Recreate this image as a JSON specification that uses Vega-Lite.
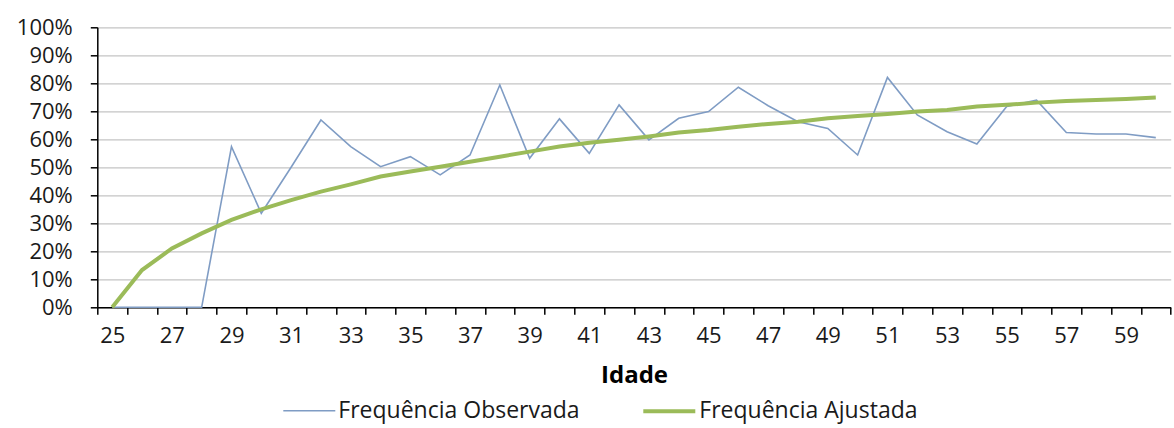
{
  "$schema": "https://vega.github.io/schema/vega-lite/v6.json",
  "width": 1073.4,
  "height": 280,
  "autosize": {"type": "none"},
  "padding": {"left": 97.3, "top": 27.3, "right": 3.3, "bottom": 120.7},
  "background": "white",
  "config": {
    "view": {"stroke": null},
    "font": "Open Sans",
    "axis": {"labelFont": "Open Sans", "titleFont": "Open Sans"},
    "legend": {"labelFont": "Open Sans"}
  },
  "data": {
    "values": [
      {"idade": 25, "serie": "Frequência Observada", "valor": 0},
      {"idade": 26, "serie": "Frequência Observada", "valor": 0},
      {"idade": 27, "serie": "Frequência Observada", "valor": 0},
      {"idade": 28, "serie": "Frequência Observada", "valor": 0},
      {"idade": 29, "serie": "Frequência Observada", "valor": 0.574},
      {"idade": 30, "serie": "Frequência Observada", "valor": 0.336},
      {"idade": 31, "serie": "Frequência Observada", "valor": 0.5},
      {"idade": 32, "serie": "Frequência Observada", "valor": 0.669},
      {"idade": 33, "serie": "Frequência Observada", "valor": 0.574},
      {"idade": 34, "serie": "Frequência Observada", "valor": 0.502},
      {"idade": 35, "serie": "Frequência Observada", "valor": 0.538},
      {"idade": 36, "serie": "Frequência Observada", "valor": 0.473},
      {"idade": 37, "serie": "Frequência Observada", "valor": 0.544},
      {"idade": 38, "serie": "Frequência Observada", "valor": 0.794},
      {"idade": 39, "serie": "Frequência Observada", "valor": 0.532},
      {"idade": 40, "serie": "Frequência Observada", "valor": 0.673},
      {"idade": 41, "serie": "Frequência Observada", "valor": 0.55},
      {"idade": 42, "serie": "Frequência Observada", "valor": 0.723},
      {"idade": 43, "serie": "Frequência Observada", "valor": 0.598},
      {"idade": 44, "serie": "Frequência Observada", "valor": 0.675},
      {"idade": 45, "serie": "Frequência Observada", "valor": 0.699},
      {"idade": 46, "serie": "Frequência Observada", "valor": 0.786},
      {"idade": 47, "serie": "Frequência Observada", "valor": 0.72},
      {"idade": 48, "serie": "Frequência Observada", "valor": 0.663},
      {"idade": 49, "serie": "Frequência Observada", "valor": 0.639},
      {"idade": 50, "serie": "Frequência Observada", "valor": 0.544},
      {"idade": 51, "serie": "Frequência Observada", "valor": 0.821},
      {"idade": 52, "serie": "Frequência Observada", "valor": 0.687},
      {"idade": 53, "serie": "Frequência Observada", "valor": 0.627},
      {"idade": 54, "serie": "Frequência Observada", "valor": 0.583},
      {"idade": 55, "serie": "Frequência Observada", "valor": 0.717},
      {"idade": 56, "serie": "Frequência Observada", "valor": 0.74},
      {"idade": 57, "serie": "Frequência Observada", "valor": 0.624},
      {"idade": 58, "serie": "Frequência Observada", "valor": 0.619},
      {"idade": 59, "serie": "Frequência Observada", "valor": 0.619},
      {"idade": 60, "serie": "Frequência Observada", "valor": 0.606},
      {"idade": 25, "serie": "Frequência Ajustada", "valor": 0},
      {"idade": 26, "serie": "Frequência Ajustada", "valor": 0.133},
      {"idade": 27, "serie": "Frequência Ajustada", "valor": 0.21},
      {"idade": 28, "serie": "Frequência Ajustada", "valor": 0.264},
      {"idade": 29, "serie": "Frequência Ajustada", "valor": 0.312},
      {"idade": 30, "serie": "Frequência Ajustada", "valor": 0.35},
      {"idade": 31, "serie": "Frequência Ajustada", "valor": 0.383},
      {"idade": 32, "serie": "Frequência Ajustada", "valor": 0.413},
      {"idade": 33, "serie": "Frequência Ajustada", "valor": 0.439},
      {"idade": 34, "serie": "Frequência Ajustada", "valor": 0.467},
      {"idade": 35, "serie": "Frequência Ajustada", "valor": 0.485},
      {"idade": 36, "serie": "Frequência Ajustada", "valor": 0.502},
      {"idade": 37, "serie": "Frequência Ajustada", "valor": 0.52},
      {"idade": 38, "serie": "Frequência Ajustada", "valor": 0.538},
      {"idade": 39, "serie": "Frequência Ajustada", "valor": 0.556},
      {"idade": 40, "serie": "Frequência Ajustada", "valor": 0.574},
      {"idade": 41, "serie": "Frequência Ajustada", "valor": 0.588},
      {"idade": 42, "serie": "Frequência Ajustada", "valor": 0.598},
      {"idade": 43, "serie": "Frequência Ajustada", "valor": 0.61},
      {"idade": 44, "serie": "Frequência Ajustada", "valor": 0.624},
      {"idade": 45, "serie": "Frequência Ajustada", "valor": 0.633},
      {"idade": 46, "serie": "Frequência Ajustada", "valor": 0.645},
      {"idade": 47, "serie": "Frequência Ajustada", "valor": 0.655},
      {"idade": 48, "serie": "Frequência Ajustada", "valor": 0.663},
      {"idade": 49, "serie": "Frequência Ajustada", "valor": 0.675},
      {"idade": 50, "serie": "Frequência Ajustada", "valor": 0.683},
      {"idade": 51, "serie": "Frequência Ajustada", "valor": 0.69},
      {"idade": 52, "serie": "Frequência Ajustada", "valor": 0.699},
      {"idade": 53, "serie": "Frequência Ajustada", "valor": 0.705},
      {"idade": 54, "serie": "Frequência Ajustada", "valor": 0.717},
      {"idade": 55, "serie": "Frequência Ajustada", "valor": 0.723},
      {"idade": 56, "serie": "Frequência Ajustada", "valor": 0.731},
      {"idade": 57, "serie": "Frequência Ajustada", "valor": 0.737},
      {"idade": 58, "serie": "Frequência Ajustada", "valor": 0.74},
      {"idade": 59, "serie": "Frequência Ajustada", "valor": 0.744},
      {"idade": 60, "serie": "Frequência Ajustada", "valor": 0.749}
    ]
  },
  "mark": {"type": "line", "clip": false},
  "encoding": {
    "x": {
      "field": "idade",
      "type": "quantitative",
      "scale": {"domain": [24.5, 60.5], "nice": false, "zero": false},
      "axis": {
        "title": "Idade",
        "titleFontSize": 24,
        "titleFontWeight": "bold",
        "titleColor": "#000000",
        "titlePadding": 17,
        "grid": false,
        "domainColor": "#000000",
        "domainWidth": 1.5,
        "tickColor": "#000000",
        "tickWidth": 1.5,
        "tickSize": 7,
        "tickOpacity": {"expr": "datum.value % 1 == 0 ? 0 : 1"},
        "labelFontSize": 22,
        "labelColor": "#1a1a1a",
        "labelPadding": 11,
        "labelOverlap": false,
        "labelFlush": false,
        "labelExpr": "datum.value % 1 == 0 ? format(datum.value, 'd') : ''",
        "values": [24.5, 25, 25.5, 26.5, 27, 27.5, 28.5, 29, 29.5, 30.5, 31, 31.5, 32.5, 33, 33.5, 34.5, 35, 35.5, 36.5, 37, 37.5, 38.5, 39, 39.5, 40.5, 41, 41.5, 42.5, 43, 43.5, 44.5, 45, 45.5, 46.5, 47, 47.5, 48.5, 49, 49.5, 50.5, 51, 51.5, 52.5, 53, 53.5, 54.5, 55, 55.5, 56.5, 57, 57.5, 58.5, 59, 59.5, 60.5]
      }
    },
    "y": {
      "field": "valor",
      "type": "quantitative",
      "scale": {"domain": [0, 1], "nice": false},
      "axis": {
        "title": null,
        "format": ".0%",
        "values": [0, 0.1, 0.2, 0.3, 0.4, 0.5, 0.6, 0.7, 0.8, 0.9, 1],
        "grid": true,
        "gridColor": "#c4c4c4",
        "gridWidth": 1.2,
        "domainColor": "#000000",
        "domainWidth": 1.5,
        "tickColor": "#000000",
        "tickWidth": 1.5,
        "tickSize": 7,
        "labelFontSize": 22,
        "labelColor": "#1a1a1a",
        "labelPadding": 18
      }
    },
    "color": {
      "field": "serie",
      "type": "nominal",
      "scale": {
        "domain": ["Frequência Observada", "Frequência Ajustada"],
        "range": ["#7f9cc4", "#9bbb59"]
      },
      "legend": {
        "title": null,
        "orient": "none",
        "direction": "horizontal",
        "legendX": 185,
        "legendY": 356,
        "padding": 0,
        "symbolType": "stroke",
        "symbolSize": 2704,
        "symbolStrokeWidth": 2.5,
        "labelFontSize": 23,
        "labelLimit": 400,
        "labelColor": "#1a1a1a",
        "labelOffset": 2,
        "columnPadding": 55
      }
    },
    "strokeWidth": {
      "field": "serie",
      "type": "nominal",
      "scale": {
        "domain": ["Frequência Observada", "Frequência Ajustada"],
        "range": [1.6, 4]
      },
      "legend": null
    },
    "order": {"field": "idade", "type": "quantitative"}
  }
}
